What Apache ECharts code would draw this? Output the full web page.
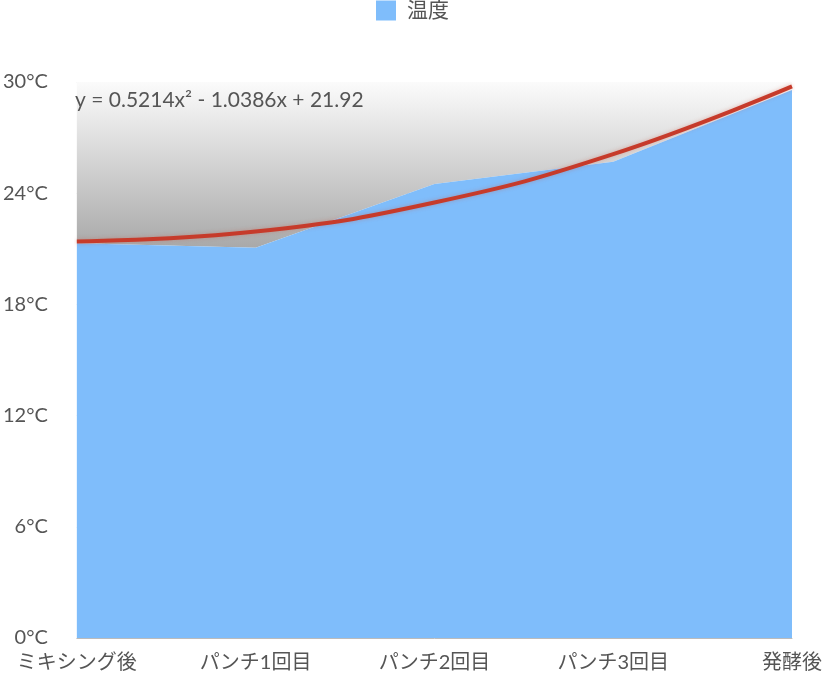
<!DOCTYPE html>
<html>
<head>
<meta charset="utf-8">
<script src="https://cdn.jsdelivr.net/npm/echarts@6/dist/echarts.min.js"></script>
<style>
  html, body { margin: 0; padding: 0; background: #fff; }
  #chart { width: 825px; height: 679px; }
</style>
</head>
<body>
<div id="chart"></div>
<script>
// 工程ごとの温度
const steps = ['ミキシング後', 'パンチ1回目', 'パンチ2回目', 'パンチ3回目', '発酵後'];
const temps = [21.3, 21.05, 24.5, 25.7, 29.57];
// 近似曲線 (y = 0.5214x² - 1.0386x + 21.92) を各点で読んだ値
const trend = [21.4, 21.93, 23.5, 26.11, 29.76];
const yTicks = { min: 0, max: 30, interval: 6 };

const font = "Lato, 'Noto Sans CJK JP', sans-serif";

let chartDom = document.getElementById('chart');
let myChart = echarts.init(chartDom);
let option;

option = {
  animation: false,
  textStyle: { fontFamily: font },
  legend: {
    data: ['温度'],
    top: 0,
    left: 'center',
    padding: [0, 5],
    icon: 'rect',
    itemWidth: 20,
    itemHeight: 20,
    itemGap: 10,
    textStyle: { fontSize: 21, color: '#555', fontFamily: font, padding: [0, 0, 0, 6] }
  },
  title: {
    text: 'y = 0.5214x² - 1.0386x + 21.92',
    left: 70,
    top: 85,
    textStyle: { fontSize: 21, fontWeight: 'normal', color: '#555', fontFamily: font }
  },
  grid: { left: 75, right: 30, top: 82, bottom: 41 },
  xAxis: {
    type: 'category',
    data: steps,
    boundaryGap: false,
    axisTick: { show: false },
    axisLine: { lineStyle: { color: '#bbb' } },
    axisLabel: { fontSize: 20, color: '#555', margin: 15, fontFamily: font, interval: 0 }
  },
  yAxis: {
    type: 'value',
    min: yTicks.min,
    max: yTicks.max,
    interval: yTicks.interval,
    axisLine: { show: false },
    axisTick: { show: false },
    axisLabel: { formatter: '{value}°C', fontSize: 20, color: '#555', margin: 29, fontFamily: font },
    splitLine: { lineStyle: { type: 'dotted', color: '#ccc' } }
  },
  series: [
    {
      name: '温度',
      type: 'line',
      data: temps,
      symbol: 'none',
      lineStyle: { width: 0 },
      itemStyle: { color: '#7fbdfb' },
      areaStyle: { color: '#7fbdfb', opacity: 1 },
      z: 2
    },
    {
      name: 'shade',
      type: 'line',
      data: temps,
      symbol: 'none',
      lineStyle: { width: 0 },
      areaStyle: {
        origin: 'end',
        opacity: 1,
        color: new echarts.graphic.LinearGradient(0, 0, 0, 1, [
          { offset: 0, color: '#fbfbfb' },
          { offset: 0.15, color: '#efefef' },
          { offset: 1, color: '#a9a9a9' }
        ])
      },
      z: 1
    },
    {
      name: 'trend',
      type: 'line',
      data: trend,
      symbol: 'none',
      smooth: 0.45,
      lineStyle: {
        color: '#c63b2b',
        width: 4,
        shadowColor: 'rgba(200,80,60,0.35)',
        shadowBlur: 4
      },
      z: 5
    }
  ]
};

option && myChart.setOption(option);
</script>
</body>
</html>
